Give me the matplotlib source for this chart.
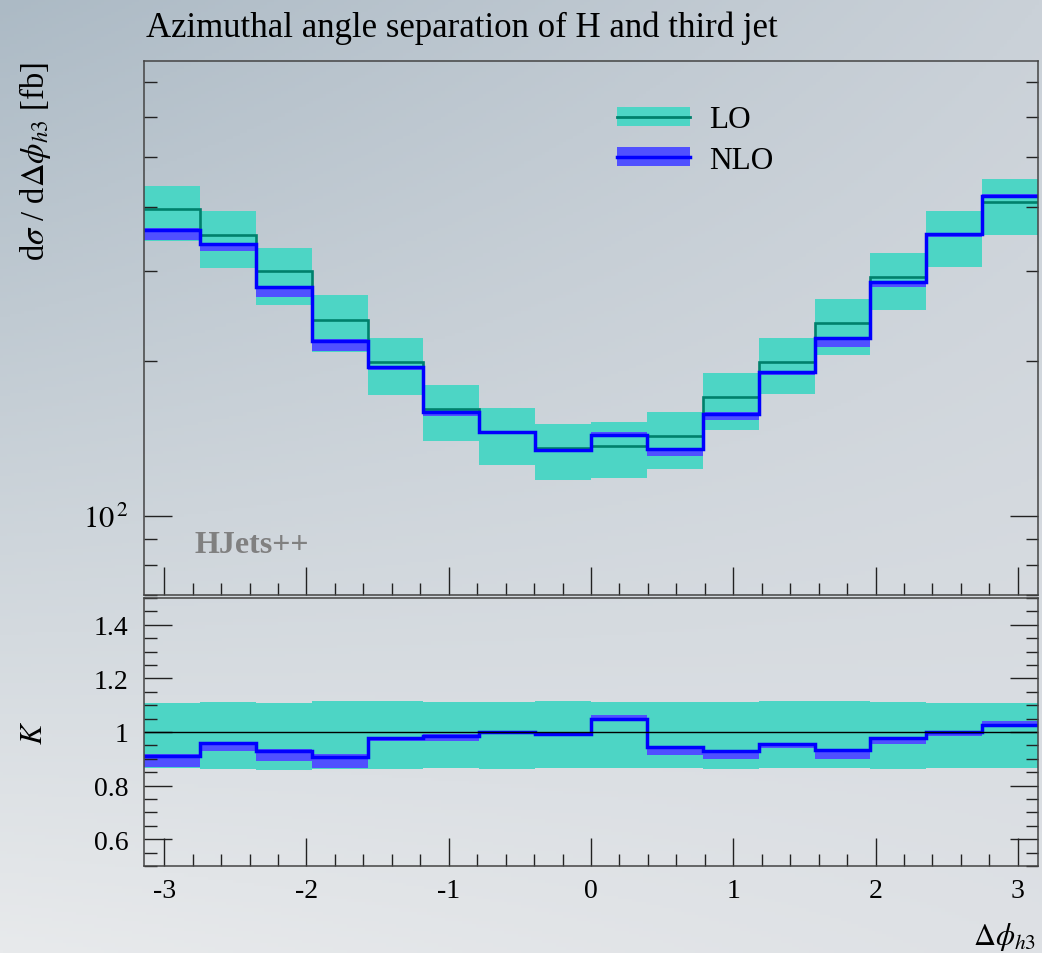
import numpy as np
import matplotlib
matplotlib.use('Agg')
import matplotlib.pyplot as plt
from matplotlib.ticker import MultipleLocator, FuncFormatter, LogLocator, NullFormatter
from matplotlib.patches import Patch
from matplotlib.lines import Line2D
from matplotlib.legend_handler import HandlerTuple

plt.rcParams['font.family'] = ['Liberation Serif', 'DejaVu Serif']
plt.rcParams['mathtext.fontset'] = 'stix'
plt.rcParams['axes.unicode_minus'] = False

# 16 bins in delta phi from -pi to pi
n_bins = 16
edges = np.linspace(-np.pi, np.pi, n_bins + 1)

# LO central value and scale band [fb]
lo = [396, 352.7, 300, 241, 199.6, 161.6, 145.7, 135.5,
      136.8, 142.9, 170.3, 199.6, 237.9, 292.1, 353.9, 408.2]
lo_up = [438.5, 392, 333, 269, 222.4, 179.7, 162, 151,
         151.9, 158.9, 189.4, 222.4, 265, 324.9, 392, 452.5]
lo_dn = [343, 304, 258, 208, 171.8, 139.7, 125.6, 117.2,
         118.3, 123.5, 146.7, 172.5, 205.6, 251.8, 306, 352.7]

# NLO central value and scale band [fb]
nlo = [360.4, 338, 278.5, 218.8, 195.2, 159.4, 145.7, 134.5,
       143.3, 134.7, 158, 190.9, 221.7, 285.5, 354, 419.4]
nlo_up = [364, 340, 280.5, 221, 195.8, 160.1, 146, 135.1,
          145.6, 134.9, 159, 191.6, 222.9, 286.6, 354.5, 424.5]
nlo_dn = [344, 328, 267, 209, 192.6, 156.3, 145, 133.5,
          143.3, 130.8, 153.3, 187.6, 213.6, 279.2, 348.6, 418.4]

x_ticklabels = ['-3', '-2', '-1', '0', '1', '2', '3']

teal = '#4DD5C5'
lo_col = '#00806C'
blue_band = '#5050FF'
blue = '#0000FF'

W, H = 1042, 954
fig = plt.figure(figsize=(W / 100, H / 100), dpi=100)

# background gradient
bg = fig.add_axes([0, 0, 1, 1], zorder=-10)
yy, xx = np.mgrid[0:1:300j, 0:1:300j]
tl = np.array([172, 186, 197]) / 255
tr = np.array([202, 209, 216]) / 255
bl = np.array([232, 234, 236]) / 255
br = np.array([222, 225, 229]) / 255
xx = xx[..., None]
yy = yy[..., None]
img = tl * (1 - xx) * (1 - yy) + tr * xx * (1 - yy) + bl * (1 - xx) * yy + br * xx * yy
bg.imshow(img, aspect='auto', extent=[0, 1, 0, 1], origin='upper')
bg.axis('off')

ax1 = fig.add_axes([144 / W, 1 - 596 / H, 894 / W, 534 / H])
ax2 = fig.add_axes([144 / W, 1 - 867 / H, 894 / W, 268 / H])
for ax in (ax1, ax2):
    ax.set_facecolor('none')

# top panel
ax1.stairs(lo_up, edges, baseline=lo_dn, fill=True, color=teal, lw=0)
ax1.stairs(nlo_up, edges, baseline=nlo_dn, fill=True, color=blue_band, lw=0)
ax1.stairs(lo, edges, baseline=None, color=lo_col, lw=1.9)
ax1.stairs(nlo, edges, baseline=None, color=blue, lw=2.5)
ax1.set_yscale('log')
ax1.set_ylim(70, 770)

# ratio panel
lo_a = np.array(lo)
ax2.stairs(np.array(lo_up) / lo_a, edges, baseline=np.array(lo_dn) / lo_a,
           fill=True, color=teal, lw=0)
ax2.stairs(np.array(nlo_up) / lo_a, edges, baseline=np.array(nlo_dn) / lo_a,
           fill=True, color=blue_band, lw=0)
ax2.axhline(1.0, color='black', lw=1.0)
ax2.stairs(np.array(nlo) / lo_a, edges, baseline=None, color=blue, lw=2.5)
ax2.set_ylim(0.5, 1.5)

for ax in (ax1, ax2):
    ax.set_xlim(-np.pi, np.pi)
    ax.xaxis.set_major_locator(MultipleLocator(1))
    ax.xaxis.set_minor_locator(MultipleLocator(0.2))
    ax.tick_params(which='both', direction='in', top=False, right=True,
                   color='#222222', width=1.0, labelsize=20)
    ax.tick_params(which='major', length=20.5)
    ax.tick_params(which='minor', length=9)
    ax.tick_params(axis='y', pad=11)
    ax.tick_params(axis='x', pad=9)
    for s in ax.spines.values():
        s.set_color('#444444')
        s.set_linewidth(1.1)

ax1.yaxis.set_major_locator(LogLocator(base=10))
ax1.yaxis.set_minor_locator(LogLocator(base=10, subs=np.arange(2, 10)))
ax1.yaxis.set_major_formatter(FuncFormatter(lambda v, p: r'$10^{\,%d}$' % round(np.log10(v))))
ax1.yaxis.set_minor_formatter(NullFormatter())
ax1.tick_params(labelbottom=False)
ax1.tick_params(axis='y', labelsize=22)

ax2.yaxis.set_major_locator(MultipleLocator(0.2))
ax2.yaxis.set_minor_locator(MultipleLocator(0.05))
ax2.yaxis.set_major_formatter(FuncFormatter(lambda v, p: '%g' % round(v, 2)))
ax2.set_xticks(range(-3, 4))
ax2.set_xticklabels(x_ticklabels)

# legend: band with central line drawn on top
handles = [(Patch(facecolor=teal, edgecolor='none'), Line2D([], [], color=lo_col, lw=2)),
           (Patch(facecolor=blue_band, edgecolor='none'), Line2D([], [], color=blue, lw=2.5))]
ax1.legend(handles, ['LO', 'NLO'], handler_map={tuple: HandlerTuple(ndivide=1, pad=0)},
           loc='upper left', bbox_to_anchor=(0.529, 0.917), frameon=False, fontsize=22.5,
           handlelength=2.35, handleheight=0.55, handletextpad=0.6, labelspacing=0.36,
           borderpad=0, borderaxespad=0)

ax1.text(0.057, 0.08, 'HJets++', transform=ax1.transAxes, color='#808080',
         fontsize=23, fontweight='bold', va='baseline', ha='left')

# texts
fig.text(146 / W, 1 - 28 / H, 'Azimuthal angle separation of H and third jet',
         fontsize=25, ha='left', va='center')
fig.text(35 / W, 1 - 62 / H, r'd$\sigma$ / d$\Delta\phi_{h3}$ [fb]', fontsize=23.5,
         rotation=90, ha='center', va='top')
fig.text(35 / W, 1 - 733 / H, r'$K$', fontsize=22, rotation=90, ha='center', va='center')
fig.text(1036 / W, 1 - 937 / H, r'$\Delta\phi_{h3}$', fontsize=22, ha='right', va='center')

fig.savefig('out.png', dpi=100)
